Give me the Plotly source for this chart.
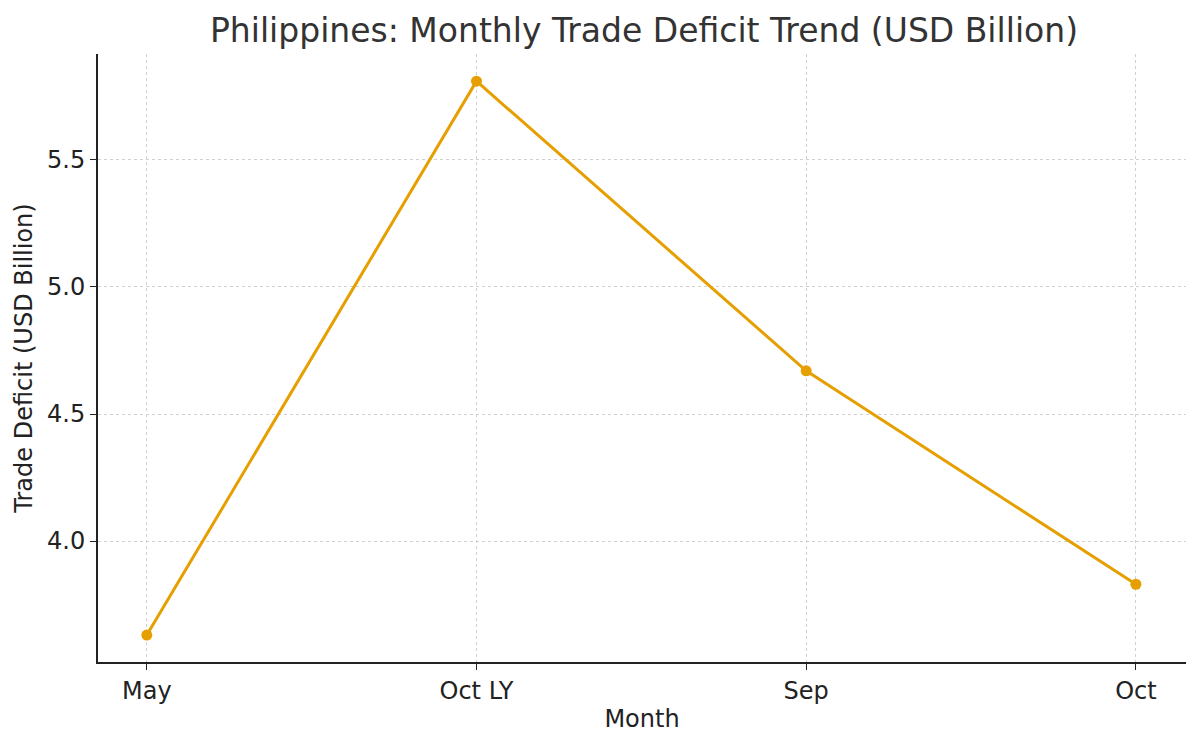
import plotly.graph_objects as go

months = ["May", "Oct LY", "Sep", "Oct"]
deficit = [3.63, 5.81, 4.67, 3.83]

fig = go.Figure(go.Scatter(
    x=list(range(len(months))), y=deficit, mode="lines+markers",
    line=dict(color="#E69F00", width=3), marker=dict(color="#E69F00", size=11),
))
fig.update_layout(
    width=1200, height=744, plot_bgcolor="white", paper_bgcolor="white",
    margin=dict(l=90, r=22, t=46, b=90),
    font=dict(family="DejaVu Sans", size=24, color="#222"),
    title=dict(text="Philippines: Monthly Trade Deficit Trend (USD Billion)", x=0.53, xanchor="center",
               y=0.97, yanchor="middle", font=dict(size=33, color="#333")),
    showlegend=False,
)
fig.update_xaxes(
    tickvals=list(range(len(months))), ticktext=months, range=[-0.148, 3.152],
    showgrid=True, gridcolor="#d0d0d0", griddash="dot", gridwidth=1,
    showline=True, linecolor="#222", linewidth=2, ticks="outside", ticklen=6, tickcolor="#222",
    title=dict(text="Month", font=dict(size=24), standoff=6), zeroline=False,
)
fig.update_yaxes(
    range=[3.524, 5.917], tickvals=[4.0, 4.5, 5.0, 5.5], ticktext=["4.0", "4.5", "5.0", "5.5"],
    showgrid=True, gridcolor="#d0d0d0", griddash="dot", gridwidth=1,
    showline=True, linecolor="#222", linewidth=2, ticks="outside", ticklen=6, tickcolor="#222",
    title=dict(text="Trade Deficit (USD Billion)", font=dict(size=24), standoff=8), zeroline=False,
)
fig.write_html("out.html")
